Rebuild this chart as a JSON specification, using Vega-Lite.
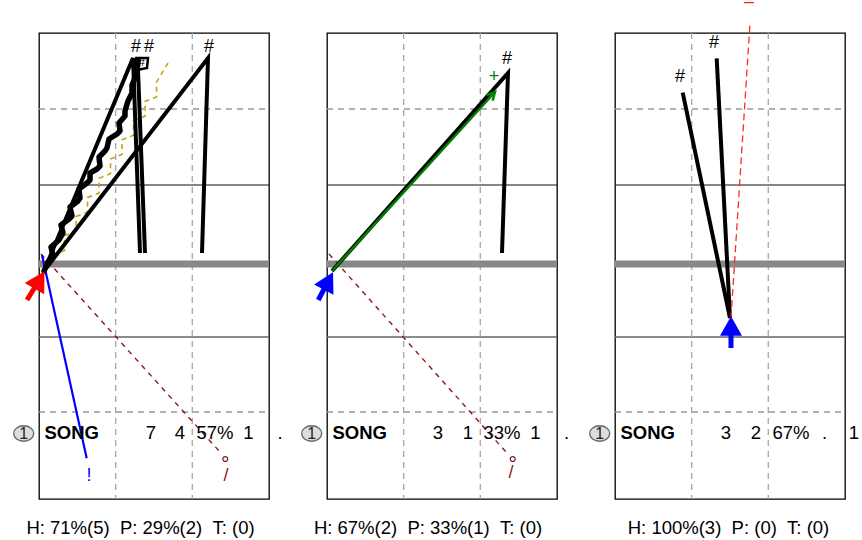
{
  "$schema": "https://vega.github.io/schema/vega-lite/v6.json",
  "autosize": {"type": "none"},
  "padding": {"left": 39, "top": 33, "right": 823, "bottom": 507},
  "background": "white",
  "bounds": "flush",
  "spacing": 58,
  "config": {"view": {"stroke": "black", "strokeWidth": 1.3}, "font": "Liberation Sans"},
  "data": {"values": [
    {"p":1,"t":"gv","x":76.67,"y":0,"x2":76.67,"y2":466},
    {"p":1,"t":"gv","x":153.33,"y":0,"x2":153.33,"y2":466},
    {"p":1,"t":"gh","x":0,"y":76,"x2":230,"y2":76},
    {"p":1,"t":"gh","x":0,"y":379,"x2":230,"y2":379},
    {"p":1,"t":"s1","x":0,"y":152,"x2":230,"y2":152},
    {"p":1,"t":"s2","x":0,"y":304,"x2":230,"y2":304},
    {"p":1,"t":"thick","x":0,"y":231,"x2":230,"y2":231},
    {"p":2,"t":"gv","x":76.67,"y":0,"x2":76.67,"y2":466},
    {"p":2,"t":"gv","x":153.33,"y":0,"x2":153.33,"y2":466},
    {"p":2,"t":"gh","x":0,"y":76,"x2":230,"y2":76},
    {"p":2,"t":"gh","x":0,"y":379,"x2":230,"y2":379},
    {"p":2,"t":"s1","x":0,"y":152,"x2":230,"y2":152},
    {"p":2,"t":"s2","x":0,"y":304,"x2":230,"y2":304},
    {"p":2,"t":"thick","x":0,"y":231,"x2":230,"y2":231},
    {"p":3,"t":"gv","x":76.67,"y":0,"x2":76.67,"y2":466},
    {"p":3,"t":"gv","x":153.33,"y":0,"x2":153.33,"y2":466},
    {"p":3,"t":"gh","x":0,"y":76,"x2":230,"y2":76},
    {"p":3,"t":"gh","x":0,"y":379,"x2":230,"y2":379},
    {"p":3,"t":"s1","x":0,"y":152,"x2":230,"y2":152},
    {"p":3,"t":"s2","x":0,"y":304,"x2":230,"y2":304},
    {"p":3,"t":"thick","x":0,"y":231,"x2":230,"y2":231},

    {"p":1,"t":"gold","s":"G","o":1,"x":14,"y":222},
    {"p":1,"t":"gold","s":"G","o":2,"x":25.5,"y":217.5},
    {"p":1,"t":"gold","s":"G","o":3,"x":25.5,"y":202.8},
    {"p":1,"t":"gold","s":"G","o":4,"x":37,"y":198.3},
    {"p":1,"t":"gold","s":"G","o":5,"x":37,"y":183.6},
    {"p":1,"t":"gold","s":"G","o":6,"x":48.5,"y":179.1},
    {"p":1,"t":"gold","s":"G","o":7,"x":48.5,"y":164.4},
    {"p":1,"t":"gold","s":"G","o":8,"x":60,"y":159.9},
    {"p":1,"t":"gold","s":"G","o":9,"x":60,"y":145.2},
    {"p":1,"t":"gold","s":"G","o":10,"x":71.5,"y":140.7},
    {"p":1,"t":"gold","s":"G","o":11,"x":71.5,"y":126},
    {"p":1,"t":"gold","s":"G","o":12,"x":83,"y":121.5},
    {"p":1,"t":"gold","s":"G","o":13,"x":83,"y":106.8},
    {"p":1,"t":"gold","s":"G","o":14,"x":94.5,"y":102.3},
    {"p":1,"t":"gold","s":"G","o":15,"x":94.5,"y":87.6},
    {"p":1,"t":"gold","s":"G","o":16,"x":106,"y":83.1},
    {"p":1,"t":"gold","s":"G","o":17,"x":106,"y":68.4},
    {"p":1,"t":"gold","s":"G","o":18,"x":117.5,"y":63.9},
    {"p":1,"t":"gold","s":"G","o":19,"x":117.5,"y":49.2},
    {"p":1,"t":"gold","s":"G","o":20,"x":129,"y":30},

    {"p":1,"t":"drd","s":"R","o":1,"x":2,"y":221},
    {"p":1,"t":"drd","s":"R","o":2,"x":181,"y":419},
    {"p":2,"t":"drd","s":"R","o":1,"x":2,"y":221},
    {"p":2,"t":"drd","s":"R","o":2,"x":179,"y":419},

    {"p":1,"t":"blu","s":"U","o":1,"x":3,"y":222},
    {"p":1,"t":"blu","s":"U","o":2,"x":47.7,"y":425.3},

    {"p":1,"t":"bl","s":"A","o":1,"x":5,"y":238},
    {"p":1,"t":"bl","s":"A","o":2,"x":94,"y":25},
    {"p":1,"t":"bl","s":"A","o":3,"x":101,"y":220},
    {"p":1,"t":"bl","s":"B","o":1,"x":99,"y":37},
    {"p":1,"t":"bl","s":"B","o":2,"x":106,"y":220},
    {"p":1,"t":"bl","s":"D","o":1,"x":5,"y":238},
    {"p":1,"t":"bl","s":"D","o":2,"x":169,"y":25},
    {"p":1,"t":"bl","s":"D","o":3,"x":163,"y":220},
    {"p":2,"t":"bl","s":"A","o":1,"x":5,"y":238},
    {"p":2,"t":"bl","s":"A","o":2,"x":181,"y":40},
    {"p":2,"t":"bl","s":"A","o":3,"x":175,"y":220},
    {"p":3,"t":"bl","s":"A","o":1,"x":115,"y":285},
    {"p":3,"t":"bl","s":"A","o":2,"x":67.7,"y":59.7},
    {"p":3,"t":"bl","s":"B","o":1,"x":115,"y":285},
    {"p":3,"t":"bl","s":"B","o":2,"x":101.7,"y":25.3},

    {"p":1,"t":"wig","s":"W","o":1,"x":5,"y":238},
    {"p":1,"t":"wig","s":"W","o":2,"x":9,"y":229},
    {"p":1,"t":"wig","s":"W","o":3,"x":14,"y":222},
    {"p":1,"t":"wig","s":"W","o":4,"x":12,"y":214},
    {"p":1,"t":"wig","s":"W","o":5,"x":20,"y":207},
    {"p":1,"t":"wig","s":"W","o":6,"x":24,"y":200},
    {"p":1,"t":"wig","s":"W","o":7,"x":22,"y":192},
    {"p":1,"t":"wig","s":"W","o":8,"x":30,"y":186},
    {"p":1,"t":"wig","s":"W","o":9,"x":33,"y":183},
    {"p":1,"t":"wig","s":"W","o":10,"x":31,"y":174},
    {"p":1,"t":"wig","s":"W","o":11,"x":39,"y":168},
    {"p":1,"t":"wig","s":"W","o":12,"x":41,"y":165},
    {"p":1,"t":"wig","s":"W","o":13,"x":40,"y":156},
    {"p":1,"t":"wig","s":"W","o":14,"x":48,"y":150},
    {"p":1,"t":"wig","s":"W","o":15,"x":51,"y":147},
    {"p":1,"t":"wig","s":"W","o":16,"x":51,"y":140},
    {"p":1,"t":"wig","s":"W","o":17,"x":58,"y":136},
    {"p":1,"t":"wig","s":"W","o":18,"x":61,"y":133},
    {"p":1,"t":"wig","s":"W","o":19,"x":60,"y":124},
    {"p":1,"t":"wig","s":"W","o":20,"x":66,"y":118},
    {"p":1,"t":"wig","s":"W","o":21,"x":68,"y":115},
    {"p":1,"t":"wig","s":"W","o":22,"x":70,"y":106},
    {"p":1,"t":"wig","s":"W","o":23,"x":78,"y":101},
    {"p":1,"t":"wig","s":"W","o":24,"x":81,"y":98},
    {"p":1,"t":"wig","s":"W","o":25,"x":80,"y":90},
    {"p":1,"t":"wig","s":"W","o":26,"x":86,"y":83},
    {"p":1,"t":"wig","s":"W","o":27,"x":86,"y":78},
    {"p":1,"t":"wig","s":"W","o":28,"x":89,"y":68},
    {"p":1,"t":"wig","s":"W","o":29,"x":93,"y":60},
    {"p":1,"t":"wig","s":"W","o":30,"x":93,"y":52},
    {"p":1,"t":"wig","s":"W","o":31,"x":98,"y":40},
    {"p":1,"t":"wig","s":"W","o":32,"x":99,"y":27},

    {"p":1,"t":"box","s":"X","o":1,"x":96,"y":25},
    {"p":1,"t":"box","s":"X","o":2,"x":109,"y":25},
    {"p":1,"t":"box","s":"X","o":3,"x":108,"y":35},
    {"p":1,"t":"box","s":"X","o":4,"x":98,"y":37},
    {"p":1,"t":"box","s":"X","o":5,"x":96,"y":25},

    {"p":2,"t":"grn","s":"L","o":1,"x":5,"y":238},
    {"p":2,"t":"grn","s":"L","o":2,"x":168,"y":59},
    {"p":2,"t":"grn","s":"H","o":1,"x":159.6,"y":62.2},
    {"p":2,"t":"grn","s":"H","o":2,"x":168,"y":59},
    {"p":2,"t":"grn","s":"H","o":3,"x":165.6,"y":67.6},

    {"p":3,"t":"rdd","s":"T","o":1,"x":116,"y":285},
    {"p":3,"t":"rdd","s":"T","o":2,"x":135,"y":-9.7},

    {"p":1,"t":"circ","x":186.3,"y":426},
    {"p":2,"t":"circ","x":185.7,"y":426},

    {"p":1,"t":"shR","s":"S","o":1,"x":-12,"y":267},
    {"p":1,"t":"shR","s":"S","o":2,"x":0.8,"y":246.2},
    {"p":2,"t":"shB","s":"S","o":1,"x":-8.7,"y":267},
    {"p":2,"t":"shB","s":"S","o":2,"x":1.6,"y":247.3},
    {"p":3,"t":"shB","s":"S","o":1,"x":116,"y":315},
    {"p":3,"t":"shB","s":"S","o":2,"x":116,"y":296},

    {"p":1,"t":"ahR","x":0.5,"y":247,"a":30},
    {"p":2,"t":"ahB","x":1.4,"y":248,"a":28},
    {"p":3,"t":"ahB","x":116,"y":293,"a":0},

    {"p":1,"t":"lab","k":"hash","x":97,"y":14,"lab":"#"},
    {"p":1,"t":"lab","k":"hash","x":110,"y":14,"lab":"#"},
    {"p":1,"t":"lab","k":"hash","x":170,"y":14,"lab":"#"},
    {"p":2,"t":"lab","k":"hash","x":180,"y":26,"lab":"#"},
    {"p":3,"t":"lab","k":"hash","x":65,"y":43.7,"lab":"#"},
    {"p":3,"t":"lab","k":"hash","x":99,"y":9.7,"lab":"#"},
    {"p":2,"t":"lab","k":"plus","x":167,"y":44,"lab":"+"},
    {"p":1,"t":"lab","k":"bang","x":50,"y":442.5,"lab":"!"},
    {"p":1,"t":"lab","k":"slash","x":187,"y":442.5,"lab":"/"},
    {"p":2,"t":"lab","k":"slash","x":184,"y":439.5,"lab":"/"},
    {"p":3,"t":"lab","k":"dash","x":134,"y":-31,"lab":"–"},
    {"p":1,"t":"labs","x":102.7,"y":29,"lab":"#"},

    {"p":1,"t":"badge","x":-15.3,"y":400.5,"lab":"1"},
    {"p":2,"t":"badge","x":-15.3,"y":400.5,"lab":"1"},
    {"p":3,"t":"badge","x":-15.3,"y":400.5,"lab":"1"},
    {"p":1,"t":"name","x":5.5,"y":400,"lab":"SONG"},
    {"p":2,"t":"name","x":5.5,"y":400,"lab":"SONG"},
    {"p":3,"t":"name","x":5.5,"y":400,"lab":"SONG"},

    {"p":1,"t":"num","x":112,"y":400,"lab":"7"},
    {"p":1,"t":"num","x":141,"y":400,"lab":"4"},
    {"p":1,"t":"num","x":176,"y":400,"lab":"57%"},
    {"p":1,"t":"num","x":209.5,"y":400,"lab":"1"},
    {"p":1,"t":"num","x":241,"y":400,"lab":"."},
    {"p":2,"t":"num","x":111,"y":400,"lab":"3"},
    {"p":2,"t":"num","x":141,"y":400,"lab":"1"},
    {"p":2,"t":"num","x":175,"y":400,"lab":"33%"},
    {"p":2,"t":"num","x":208.5,"y":400,"lab":"1"},
    {"p":2,"t":"num","x":239.5,"y":400,"lab":"."},
    {"p":3,"t":"num","x":111,"y":400,"lab":"3"},
    {"p":3,"t":"num","x":141,"y":400,"lab":"2"},
    {"p":3,"t":"num","x":176,"y":400,"lab":"67%"},
    {"p":3,"t":"num","x":209.5,"y":400,"lab":"."},
    {"p":3,"t":"num","x":239,"y":400,"lab":"1"},

    {"p":1,"t":"foot","x":101.5,"y":495,"lab":"H: 71%(5)\u00a0\u00a0P: 29%(2)\u00a0\u00a0T: (0)"},
    {"p":2,"t":"foot","x":101,"y":495,"lab":"H: 67%(2)\u00a0\u00a0P: 33%(1)\u00a0\u00a0T: (0)"},
    {"p":3,"t":"foot","x":113.5,"y":495,"lab":"H: 100%(3)\u00a0\u00a0P: (0)\u00a0\u00a0T: (0)"}
  ]},
  "facet": {"column": {"field": "p", "type": "ordinal", "header": null}},
  "spec": {
    "width": 230,
    "height": 466,
    "encoding": {
      "x": {"field": "x", "type": "quantitative", "scale": {"domain": [0, 230], "nice": false, "zero": false}, "axis": null},
      "y": {"field": "y", "type": "quantitative", "scale": {"domain": [0, 466], "nice": false, "zero": false, "reverse": true}, "axis": null}
    },
    "layer": [
      {"transform": [{"filter": "datum.t === 'gv'"}], "mark": {"type": "rule", "color": "#aaaaaa", "strokeWidth": 1.4, "strokeDash": [6, 5]}, "encoding": {"x2": {"field": "x2"}, "y2": {"field": "y2"}}},
      {"transform": [{"filter": "datum.t === 'gh'"}], "mark": {"type": "rule", "color": "#999999", "strokeWidth": 1.3, "strokeDash": [6, 5]}, "encoding": {"x2": {"field": "x2"}, "y2": {"field": "y2"}}},
      {"transform": [{"filter": "datum.t === 's1'"}], "mark": {"type": "rule", "color": "#111111", "strokeWidth": 1.2}, "encoding": {"x2": {"field": "x2"}, "y2": {"field": "y2"}}},
      {"transform": [{"filter": "datum.t === 's2'"}], "mark": {"type": "rule", "color": "#666666", "strokeWidth": 1.6}, "encoding": {"x2": {"field": "x2"}, "y2": {"field": "y2"}}},
      {"transform": [{"filter": "datum.t === 'thick'"}], "mark": {"type": "rule", "color": "#888888", "strokeWidth": 7}, "encoding": {"x2": {"field": "x2"}, "y2": {"field": "y2"}}},
      {"transform": [{"filter": "datum.t === 'gold'"}], "mark": {"type": "line", "color": "#c9a115", "strokeWidth": 1.6, "strokeDash": [5, 4]}, "encoding": {"detail": {"field": "s"}, "order": {"field": "o"}}},
      {"transform": [{"filter": "datum.t === 'drd'"}], "mark": {"type": "line", "color": "#8b1a1a", "strokeWidth": 1.4, "strokeDash": [5, 5]}, "encoding": {"detail": {"field": "s"}, "order": {"field": "o"}}},
      {"transform": [{"filter": "datum.t === 'blu'"}], "mark": {"type": "line", "color": "#0000ff", "strokeWidth": 2.2}, "encoding": {"detail": {"field": "s"}, "order": {"field": "o"}}},
      {"transform": [{"filter": "datum.t === 'bl'"}], "mark": {"type": "line", "color": "#000000", "strokeWidth": 4, "strokeJoin": "miter", "strokeCap": "butt"}, "encoding": {"detail": {"field": "s"}, "order": {"field": "o"}}},
      {"transform": [{"filter": "datum.t === 'wig'"}], "mark": {"type": "line", "color": "#000000", "strokeWidth": 5.5, "strokeJoin": "round", "strokeCap": "round"}, "encoding": {"detail": {"field": "s"}, "order": {"field": "o"}}},
      {"transform": [{"filter": "datum.t === 'box'"}], "mark": {"type": "line", "color": "#000000", "strokeWidth": 2.5}, "encoding": {"detail": {"field": "s"}, "order": {"field": "o"}}},
      {"transform": [{"filter": "datum.t === 'grn'"}], "mark": {"type": "line", "color": "#008000", "strokeWidth": 2.5}, "encoding": {"detail": {"field": "s"}, "order": {"field": "o"}}},
      {"transform": [{"filter": "datum.t === 'rdd'"}], "mark": {"type": "line", "color": "#ff2a2a", "strokeWidth": 1.3, "strokeDash": [7, 4]}, "encoding": {"detail": {"field": "s"}, "order": {"field": "o"}}},
      {"transform": [{"filter": "datum.t === 'circ'"}], "mark": {"type": "point", "color": "#8b1a1a", "filled": false, "size": 24, "strokeWidth": 1.2, "opacity": 1}},
      {"transform": [{"filter": "datum.t === 'shR'"}], "mark": {"type": "line", "color": "#ff0000", "strokeWidth": 5}, "encoding": {"detail": {"field": "s"}, "order": {"field": "o"}}},
      {"transform": [{"filter": "datum.t === 'shB'"}], "mark": {"type": "line", "color": "#0000ff", "strokeWidth": 5}, "encoding": {"detail": {"field": "s"}, "order": {"field": "o"}}},
      {"transform": [{"filter": "datum.t === 'ahR'"}], "mark": {"type": "point", "shape": "M0,-0.9L1,0.9L-1,0.9Z", "filled": true, "color": "#ff0000", "size": 500, "opacity": 1}, "encoding": {"angle": {"field": "a", "type": "quantitative", "scale": null}}},
      {"transform": [{"filter": "datum.t === 'ahB'"}], "mark": {"type": "point", "shape": "M0,-0.9L1,0.9L-1,0.9Z", "filled": true, "color": "#0000ff", "size": 480, "opacity": 1}, "encoding": {"angle": {"field": "a", "type": "quantitative", "scale": null}}},
      {"transform": [{"filter": "datum.t === 'lab'"}], "mark": {"type": "text", "fontSize": 18, "font": "Liberation Sans", "align": "center", "baseline": "middle"},
        "encoding": {"text": {"field": "lab"}, "color": {"field": "k", "type": "nominal", "scale": {"domain": ["hash", "plus", "bang", "slash", "dash"], "range": ["#000000", "#008000", "#0000ff", "#8b1a1a", "#ff2020"]}, "legend": null}}},
      {"transform": [{"filter": "datum.t === 'labs'"}], "mark": {"type": "text", "fontSize": 12, "font": "Liberation Sans", "align": "center", "baseline": "middle", "color": "#000000"}, "encoding": {"text": {"field": "lab"}}},
      {"transform": [{"filter": "datum.t === 'badge'"}], "mark": {"type": "point", "shape": "M-1.3,0A1.3,1,0,1,1,1.3,0A1.3,1,0,1,1,-1.3,0Z", "filled": true, "fill": "#dddddd", "stroke": "#666666", "strokeWidth": 1.3, "size": 240, "opacity": 1}},
      {"transform": [{"filter": "datum.t === 'badge'"}], "mark": {"type": "text", "fontSize": 16, "font": "Liberation Sans", "align": "center", "baseline": "middle", "color": "#222222"}, "encoding": {"text": {"field": "lab"}}},
      {"transform": [{"filter": "datum.t === 'name'"}], "mark": {"type": "text", "fontSize": 18.5, "font": "Liberation Sans", "fontWeight": "bold", "align": "left", "baseline": "middle", "color": "#000000"}, "encoding": {"text": {"field": "lab"}}},
      {"transform": [{"filter": "datum.t === 'num'"}], "mark": {"type": "text", "fontSize": 18.5, "font": "Liberation Sans", "align": "center", "baseline": "middle", "color": "#000000"}, "encoding": {"text": {"field": "lab"}}},
      {"transform": [{"filter": "datum.t === 'foot'"}], "mark": {"type": "text", "fontSize": 18.5, "font": "Liberation Sans", "align": "center", "baseline": "middle", "color": "#000000"}, "encoding": {"text": {"field": "lab"}}}
    ]
  }
}
